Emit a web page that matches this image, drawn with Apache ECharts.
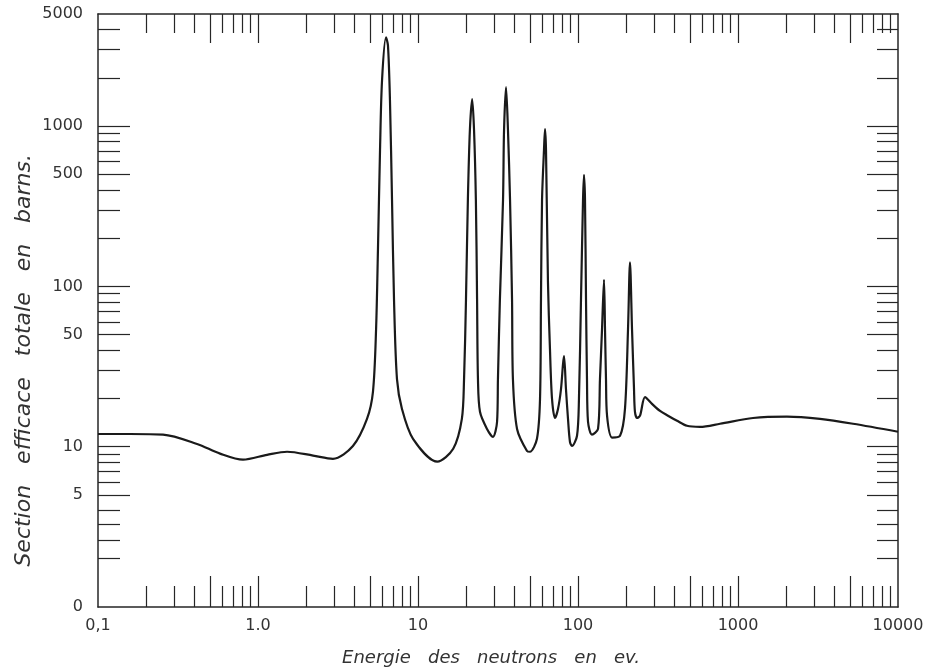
<!DOCTYPE html>
<html>
<head>
<meta charset="utf-8">
<script src="https://cdn.jsdelivr.net/npm/echarts@6/dist/echarts.min.js"></script>
<style>
  html, body { margin: 0; padding: 0; background: #fff; }
  #chart { width: 932px; height: 672px; }
</style>
</head>
<body>
<div id="chart"></div>
<script>
// neutron energy (eV) and total cross section (barns)
const energy = [
  0.1, 0.158, 0.255, 0.416, 0.579, 0.806, 1.14, 1.52, 2.21, 2.94,
  3.92, 4.8, 5.23, 5.47, 5.62, 5.79, 5.96, 6.31, 6.49, 6.68,
  6.88, 7.08, 7.39, 7.94, 9.31, 13.2, 16.6, 18.8, 19.4, 19.95,
  20.5, 21.1, 21.8, 22.4, 23.0, 23.4, 23.7, 24.4, 27.0, 29.4,
  31.2, 31.6, 32.5, 34.0, 34.5, 35.5, 36.5, 37.6, 38.7, 39.2,
  41.6, 48.0, 50.1, 55.4, 57.9, 58.7, 59.6, 61.3, 62.2, 63.1,
  64.9, 66.8, 68.8, 71.8, 75.0, 78.3, 80.6, 81.8, 84.1, 86.6,
  89.1, 91.7, 98.6, 101.4, 104.4, 107.5, 109.0, 110.6, 112.2, 113.8,
  115.5, 122.3, 133.4, 137.2, 141.3, 145.4, 147.5, 149.6, 151.9, 163.1,
  183.1, 196.6, 205.4, 211.3, 217.6, 223.9, 227.0, 233.9, 244.1, 262.4,
  290, 325.5, 365, 416, 480, 579, 772, 1241, 2024, 3255,
  5236, 10000
];
const sigma = [
  12.0, 12.0, 11.9, 10.4, 9.05, 8.3, 8.9, 9.3, 8.8, 8.4,
  10.1, 14.9, 22, 54, 170, 710, 1930, 3572, 3186, 1450,
  347, 83, 26.4, 17.2, 11.2, 8.07, 9.7, 14.9, 26.4, 83,
  347, 944, 1472, 944, 347, 83, 26.4, 16.5, 12.9, 11.5,
  14.3, 26.4, 83, 347, 944, 1747, 944, 347, 83, 26.4,
  12.9, 9.4, 9.3, 11.2, 19.9, 83, 347, 710, 957, 710,
  106, 40.6, 19.9, 15.1, 17.2, 22.9, 32.8, 36.7, 22.9, 14.9,
  10.7, 10.1, 11.7, 19.9, 83, 347, 496, 347, 83, 26.4,
  14.3, 11.9, 12.9, 26.4, 54, 110, 54, 26.4, 15.6, 11.4,
  11.7, 17.2, 54, 141, 54, 22.9, 16.5, 15.1, 15.6, 20.4,
  18.5, 16.7, 15.6, 14.5, 13.5, 13.3, 13.9, 15.1, 15.4, 14.9,
  13.9, 12.4
];

const xLabelValues = [0.1, 1, 10, 100, 1000, 10000];
const xLabelText = ['0,1', '1.0', '10', '100', '1000', '10000'];
const xMajorTicks = [0.5, 1, 5, 10, 50, 100, 500, 1000, 5000];
const xMinorTicks = [
  0.2, 0.3, 0.4, 0.6, 0.7, 0.8, 0.9,
  2, 3, 4, 6, 7, 8, 9,
  20, 30, 40, 60, 70, 80, 90,
  200, 300, 400, 600, 700, 800, 900,
  2000, 3000, 4000, 6000, 7000, 8000, 9000
];

const yLabelValues = [1, 5, 10, 50, 100, 500, 1000, 5000];
const yLabelText = ['0', '5', '10', '50', '100', '500', '1000', '5000'];
const yMajorTicks = [5, 10, 50, 100, 500, 1000];
const yMinorTicks = [
  2, 2.6, 3.3, 4, 6, 7, 8, 9,
  20, 30, 40, 60, 70, 80, 90,
  200, 300, 400, 600, 700, 800, 900,
  2000, 3000, 4000
];

const ink = '#262626';
const labelFont = { color: '#333', fontSize: 16, fontFamily: 'DejaVu Sans' };

function pickLabel(values, texts) {
  return function (v) {
    for (let i = 0; i < values.length; i++) {
      if (Math.abs(Math.log10(v) - Math.log10(values[i])) < 1e-6) return texts[i];
    }
    return '';
  };
}

function logAxis(extra, min, max) {
  return Object.assign({
    type: 'log',
    logBase: 10,
    min: min,
    max: max,
    gridIndex: 0,
    axisLine: { show: false },
    splitLine: { show: false },
    axisLabel: { show: false },
    axisTick: { show: false }
  }, extra);
}

function tickAxis(pos, values, len, min, max, showLine) {
  return logAxis({
    position: pos,
    axisLine: { show: !!showLine, lineStyle: { color: ink, width: 1.5 } },
    axisTick: {
      show: true, inside: true, length: len, customValues: values,
      lineStyle: { color: ink, width: 1.2 }
    }
  }, min, max);
}

const chart = echarts.init(document.getElementById('chart'));

const option = {
  backgroundColor: '#fff',
  animation: false,
  grid: { left: 98, right: 34, top: 14, bottom: 63, containLabel: false },
  xAxis: [
    logAxis({
      position: 'bottom',
      name: 'Energie   des   neutrons   en   ev.',
      nameLocation: 'middle',
      nameGap: 42,
      nameTextStyle: {
        fontFamily: 'DejaVu Sans', fontStyle: 'italic', fontSize: 18, color: '#333',
        padding: [0, 14, 0, 0]
      },
      axisLine: { show: true, lineStyle: { color: ink, width: 1.5 } },
      axisTick: {
        show: true, inside: true, length: 31, customValues: xMajorTicks,
        lineStyle: { color: ink, width: 1.2 }
      },
      axisLabel: Object.assign({
        show: true, margin: 11, customValues: xLabelValues,
        formatter: pickLabel(xLabelValues, xLabelText)
      }, labelFont)
    }, 0.1, 10000),
    tickAxis('bottom', xMinorTicks, 21, 0.1, 10000),
    tickAxis('top', xMajorTicks, 29, 0.1, 10000, true),
    tickAxis('top', xMinorTicks, 19, 0.1, 10000)
  ],
  yAxis: [
    logAxis({
      position: 'left',
      axisLine: { show: true, lineStyle: { color: ink, width: 1.5 } },
      axisTick: {
        show: true, inside: true, length: 32, customValues: yMajorTicks,
        lineStyle: { color: ink, width: 1.2 }
      },
      axisLabel: Object.assign({
        show: true, margin: 15, customValues: yLabelValues,
        formatter: pickLabel(yLabelValues, yLabelText)
      }, labelFont)
    }, 1, 5000),
    tickAxis('left', yMinorTicks, 22, 1, 5000),
    tickAxis('right', yMajorTicks, 31, 1, 5000, true),
    tickAxis('right', yMinorTicks, 21, 1, 5000)
  ],
  graphic: [{
    type: 'text',
    left: 13,
    top: 154,
    rotation: Math.PI / 2,
    style: {
      text: 'Section   efficace   totale   en   barns.',
      fontFamily: 'DejaVu Sans',
      fontStyle: 'italic',
      fontSize: 22,
      fill: '#333'
    }
  }],
  series: [{
    type: 'line',
    xAxisIndex: 0,
    yAxisIndex: 0,
    data: energy.map((e, i) => [e, sigma[i]]),
    showSymbol: false,
    smooth: 0.3,
    lineStyle: { color: '#1a1a1a', width: 2.2 }
  }]
};

chart.setOption(option);
</script>
</body>
</html>
